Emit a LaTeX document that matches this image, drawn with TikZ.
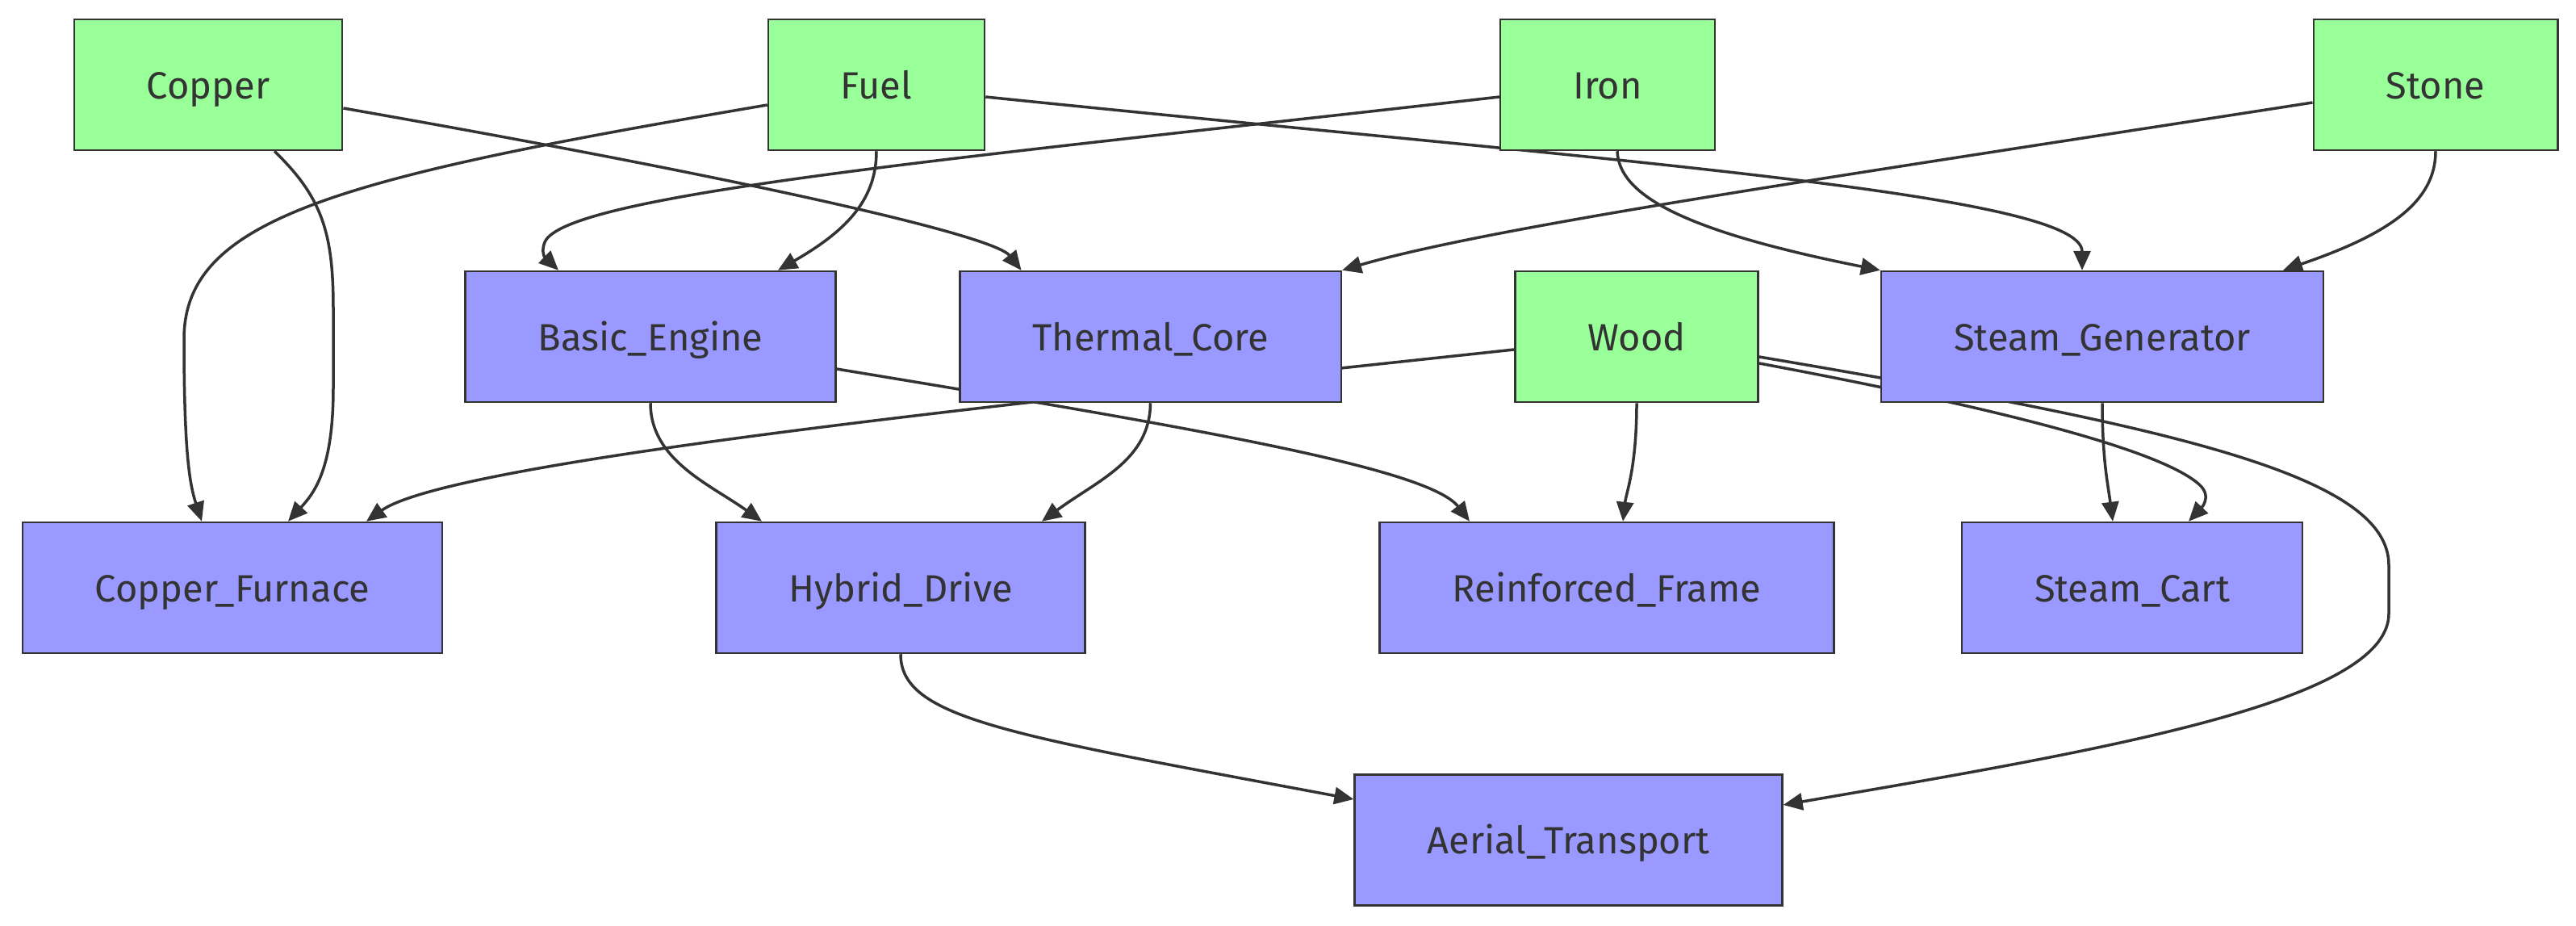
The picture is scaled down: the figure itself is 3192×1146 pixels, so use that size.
\documentclass[tikz,border=0pt]{standalone}
\usepackage{fontspec}
\setmainfont{Fira Sans}
\usepackage{tikz}
\definecolor{myrawgreen}{RGB}{153,255,153}
\definecolor{mypartblue}{RGB}{153,153,255}
\definecolor{mydark}{RGB}{51,51,51}
\usetikzlibrary{arrows.meta,backgrounds,positioning}

\begin{document}
\begin{tikzpicture}[
  x=1pt,
  y=-1pt,
  mybox/.style={
    draw=mydark,
    line width=2.5pt,
    rectangle,
    minimum height=162pt,
    inner xsep=90pt,
    text height=40pt,
    text depth=6pt,
    text=mydark,
    font=\fontsize{47}{57}\selectfont
    },
  myraw/.style={mybox, fill=myrawgreen},
  mypart/.style={mybox, fill=mypartblue},
  myedge/.style={
    draw=mydark,
    line width=3.5pt,
    -{Triangle[length=24pt,width=21pt]}
    }
]

\useasboundingbox (0,0) rectangle (3192,1146);

% raw materials
\node[myraw] (copper) at (258,105) {Copper};
\node[myraw] (fuel) at (1086,105) {Fuel};
\node[myraw] (iron) at (1992,105) {Iron};
\node[myraw] (stone) at (3018,105) {Stone};
\node[myraw] (wood) at (2028,417) {Wood};

% parts
\node[mypart] (basic) at (806,417) {Basic\_Engine};
\node[mypart] (thermal) at (1425.5,417) {Thermal\_Core};
\node[mypart] (steamgen) at (2605,417) {Steam\_Generator};
\node[mypart] (furnace) at (288,728) {Copper\_Furnace};
\node[mypart] (hybrid) at (1116,728) {Hybrid\_Drive};
\node[mypart] (frame) at (1991,728) {Reinforced\_Frame};
\node[mypart] (cart) at (2642,728) {Steam\_Cart};
\node[mypart] (aerial) at (1943.5,1040.5) {Aerial\_Transport};

\begin{scope}[on background layer]
\fill[white] (0,0) rectangle (3192,1146);

\draw[myedge] ([yshift=-29pt]copper.east) .. controls (900,217) and (1230,290) .. ([xshift=-160pt]thermal.north);
\draw[myedge] ([xshift=82pt]copper.south) .. controls (400,245) and (413,290) .. (413,383)
  -- (413,480) .. controls (413,580) and (390,610) .. ([xshift=69pt]furnace.north);
\draw[myedge] ([yshift=-25pt]fuel.west) .. controls (420,220) and (228,270) .. (228,420)
  .. controls (228,560) and (235,600) .. ([xshift=-38pt]furnace.north);
\draw[myedge] (fuel.south) .. controls (1086,250) and (1045,288) .. ([xshift=158pt]basic.north);
\draw[myedge] ([yshift=-15pt]fuel.east) .. controls (2000,200) and (2580,240) .. ([xshift=-25pt]steamgen.north);
\draw[myedge] ([yshift=-15pt]iron.west) .. controls (1200,195) and (700,240) .. (675,300)
  .. controls (667,320) and (685,328) .. ([xshift=-114pt]basic.north);
\draw[myedge] ([xshift=12pt]iron.south) .. controls (2006,240) and (2080,285) .. (steamgen.north west);
\draw[myedge] ([yshift=-22pt]stone.west) .. controls (2300,215) and (1850,280) .. (thermal.north east);
\draw[myedge] (stone.south) .. controls (3018,250) and (2960,290) .. ([xshift=224pt]steamgen.north);
\draw[myedge] ([yshift=-16pt]wood.west) .. controls (1300,495) and (560,570) .. ([xshift=166pt]furnace.north);
\draw[myedge] ([yshift=-40pt]basic.east) .. controls (1480,530) and (1770,580) .. ([xshift=-170pt]frame.north);
\draw[myedge] (basic.south) .. controls (806,570) and (880,600) .. ([xshift=-172pt]hybrid.north);
\draw[myedge] (thermal.south) .. controls (1425,570) and (1360,595) .. ([xshift=175pt]hybrid.north);
\draw[myedge] (wood.south) .. controls (2028,580) and (2015,610) .. ([xshift=20pt]frame.north);
\draw[myedge] ([yshift=-33pt]wood.east) .. controls (2500,510) and (2680,560) .. (2725,600)
  .. controls (2743,616) and (2725,632) .. ([xshift=70pt]cart.north);
\draw[myedge] ([yshift=-25pt]wood.east) .. controls (2700,530) and (2960,590) .. (2960,700)
  -- (2960,760) .. controls (2960,870) and (2600,930) .. ([yshift=43.5pt]aerial.east);
\draw[myedge] (steamgen.south) .. controls (2605,570) and (2612,600) .. ([xshift=-24pt]cart.north);
\draw[myedge] (hybrid.south) .. controls (1116,890) and (1250,910) .. ([yshift=50.5pt]aerial.west);
\end{scope}

\end{tikzpicture}
\end{document}
